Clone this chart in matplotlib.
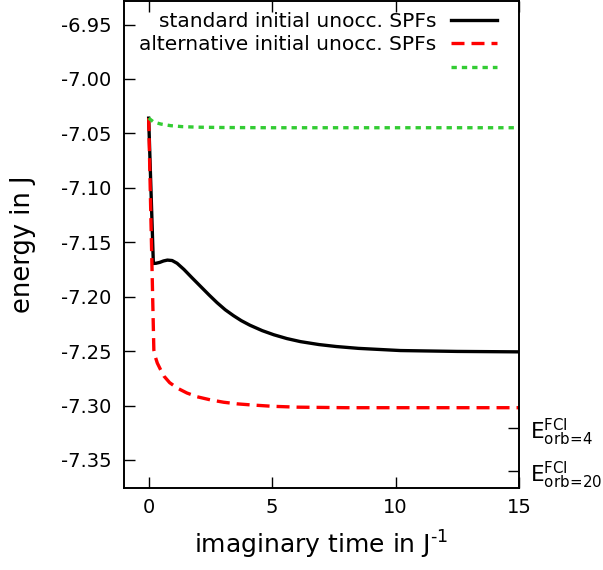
import matplotlib
matplotlib.use("Agg")
import matplotlib.pyplot as plt

plt.rcParams["axes.unicode_minus"] = False

# imaginary time (J^-1) and energies (J)
t_std = [0.0, 0.19, 0.3, 0.45, 0.6, 0.76, 0.95, 1.15, 1.43, 1.75, 2.1, 2.45, 2.77, 3.1, 3.44,
         3.75, 4.1, 4.6, 5.07, 5.6, 6.15, 6.9, 7.6, 8.5, 10.2, 12.5, 15.0]
e_std = [-7.036, -7.1695, -7.1693, -7.1685, -7.1672, -7.1664, -7.1668, -7.1693, -7.1750, -7.1825,
         -7.1905, -7.1985, -7.2055, -7.2120, -7.2175, -7.2220, -7.2262, -7.2312, -7.2350, -7.2385,
         -7.2413, -7.2440, -7.2458, -7.2475, -7.2495, -7.2503, -7.2507]

t_alt = [0.0, 0.21, 0.28, 0.35, 0.48, 0.62, 0.85, 1.16, 1.55, 1.97, 2.5, 3.04, 3.6, 4.12, 5.0,
         6.0, 8.0, 10.0, 15.0]
e_alt = [-7.036, -7.249, -7.256, -7.261, -7.267, -7.273, -7.279, -7.284, -7.2885, -7.292, -7.2948,
         -7.297, -7.2985, -7.2994, -7.3007, -7.3015, -7.302, -7.302, -7.302]

t_grn = [0.0, 0.2, 0.49, 0.89, 1.36, 2.0, 3.0, 5.0, 10.0, 15.0]
e_grn = [-7.036, -7.0395, -7.0414, -7.0429, -7.0438, -7.0443, -7.0446, -7.0448, -7.0448, -7.0448]

labels = ["standard initial unocc. SPFs", "alternative initial unocc. SPFs", " "]

y_ticks = [-6.95, -7.00, -7.05, -7.10, -7.15, -7.20, -7.25, -7.30, -7.35]
x_ticks = [0, 5, 10, 15]
fci_vals = [-7.3205, -7.360]
fci_labels = [r"$\mathregular{E^{FCI}_{orb\!=\!4}}$", r"$\mathregular{E^{FCI}_{orb\!=\!20}}$"]

fig = plt.figure(figsize=(6.03, 5.70), dpi=100)
ax = fig.add_axes([0.2056, 0.144, 0.655, 0.854])

h1, = ax.plot(t_std, e_std, color="black", lw=2.4, solid_joinstyle="round")
h2, = ax.plot(t_alt, e_alt, color="#ff0000", lw=2.4, dashes=(3.9, 2.1))
h3, = ax.plot(t_grn, e_grn, color="#33cc33", lw=2.4, dashes=(1.6, 1.5))

ax.set_xlim(-1, 15)
ax.set_ylim(-7.3757, -6.9285)
ax.set_xticks(x_ticks)
ax.set_yticks(y_ticks)
ax.set_yticklabels([f"{v:.2f}" for v in y_ticks])
ax.tick_params(direction="in", length=8, width=1, labelsize=14, top=True, right=False)
ax.tick_params(axis="y", pad=9)
ax.tick_params(axis="x", pad=7)

ax2 = ax.twinx()
ax2.set_ylim(ax.get_ylim())
ax2.set_yticks(fci_vals)
ax2.set_yticklabels(fci_labels)
ax2.tick_params(direction="in", length=8, width=1, labelsize=15.5, pad=8)

ax.set_xlabel(r"imaginary time in J$^{\text{-1}}$", fontsize=18, labelpad=9)
ax.set_ylabel("energy in J", fontsize=18.5, labelpad=18)

for a in (ax, ax2):
    for s in a.spines.values():
        s.set_linewidth(1.2)

leg = ax.legend([h1, h2, h3], labels, loc="upper right", bbox_to_anchor=(0.944, 0.978),
                frameon=False, markerfirst=False, fontsize=14.5, handlelength=2.3,
                handletextpad=0.7, borderaxespad=0, borderpad=0, labelspacing=0.22)

fig.savefig("out.png", dpi=100)
